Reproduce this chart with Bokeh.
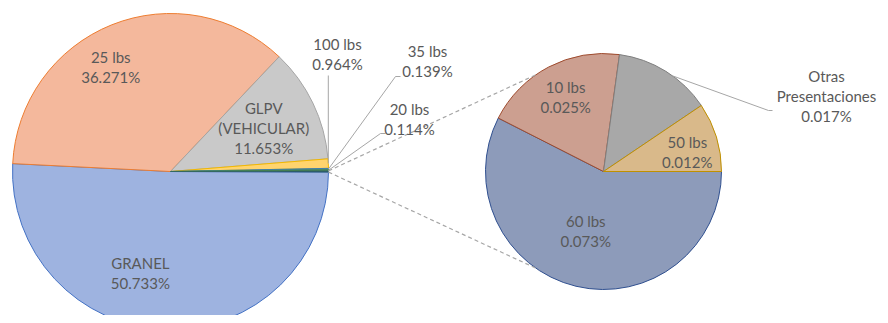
import math
from bokeh.plotting import figure
from bokeh.models import Range1d, ColumnDataSource
from bokeh.core.properties import value
from bokeh.embed import file_html
from bokeh.resources import INLINE

# ---------------- data ----------------
main_labels = ["GRANEL", "25 lbs", "GLPV\n(VEHICULAR)", "100 lbs", "35 lbs", "20 lbs"]
main_pct = [50.733, 36.271, 11.653, 0.964, 0.139, 0.114]
sec_labels = ["60 lbs", "10 lbs", "Otras\nPresentaciones", "50 lbs"]
sec_pct = [0.073, 0.025, 0.017, 0.012]

# ---------------- styles / layout ----------------
main_fill = ["#9EB3E0", "#F4B89C", "#C9C9C9", "#FFD46E", "#3F7FAF", "#4C8A4A"]
main_line = ["#4472C4", "#ED7D31", "#A5A5A5", "#F2B800", "#3F7FAF", "#4C8A4A"]
other_fill = "#2F5E68"
sec_fill = ["#8D9BBA", "#CC9F90", "#A8A8A8", "#D9B98A"]
sec_line = ["#2F4F8F", "#9E4B2E", "#7F7F7F", "#BF9000"]
TXT = "#595959"
LEAD = "#A6A6A6"
FONT = value("Lato")
FSIZE = "15px"
LINE_H = 20

W, H = 880, 315
IMG_H = 323


def Y(yi):
    return IMG_H - yi


C1 = (170.0, Y(171)); R1 = 158.0
C2 = (603.0, Y(171)); R2 = 118.0

total = sum(main_pct) + sum(sec_pct)
k = 2 * math.pi / total

# ---- main pie (clockwise; combined slice centred at 0 rad) ----
other_ang = sum(sec_pct) * k
m_start, m_end, m_mid = [], [], []
s = -other_ang / 2
for v in main_pct:
    e = s - v * k
    m_start.append(e); m_end.append(s); m_mid.append((s + e) / 2)
    s = e

p = figure(width=W, height=H, x_range=Range1d(0, W), y_range=Range1d(Y(H), Y(0)),
           min_border=0, toolbar_location=None, output_backend="svg",
           x_axis_type=None, y_axis_type=None)
p.grid.visible = False
p.outline_line_color = None
p.background_fill_color = "white"
p.border_fill_color = "white"

src1 = ColumnDataSource(dict(x=[C1[0]] * len(main_pct), y=[C1[1]] * len(main_pct),
                             start=m_start, end=m_end, fill=main_fill, line=main_line))
p.wedge(x="x", y="y", radius=R1, start_angle="start", end_angle="end",
        fill_color="fill", line_color="line", line_width=1, source=src1)
p.wedge(x=C1[0], y=C1[1], radius=R1, start_angle=-other_ang / 2, end_angle=other_ang / 2,
        fill_color=other_fill, line_color=other_fill, line_width=0.5)

# ---- secondary pie (clockwise from 0 rad) ----
sec_total = sum(sec_pct)
ks = 2 * math.pi / sec_total
s_start, s_end, s_mid = [], [], []
s = 0.0
for v in sec_pct:
    e = s - v * ks
    s_start.append(e); s_end.append(s); s_mid.append((s + e) / 2)
    s = e

src2 = ColumnDataSource(dict(x=[C2[0]] * len(sec_pct), y=[C2[1]] * len(sec_pct),
                             start=s_start, end=s_end, fill=sec_fill, line=sec_line))
p.wedge(x="x", y="y", radius=R2, start_angle="start", end_angle="end",
        fill_color="fill", line_color="line", line_width=1, source=src2)

# ---- dashed connectors ----
conn_ang = math.radians(125)
xs, ys = [], []
for sgn in (1, -1):
    a0 = sgn * other_ang / 2
    a1 = sgn * conn_ang
    xs.append([C1[0] + R1 * math.cos(a0), C2[0] + R2 * math.cos(a1)])
    ys.append([C1[1] + R1 * math.sin(a0), C2[1] + R2 * math.sin(a1)])
p.multi_line(xs=xs, ys=ys, line_color=LEAD, line_width=1.2, line_dash="4 3")


def edge(c, r, a):
    return (c[0] + r * math.cos(a), c[1] + r * math.sin(a))


# ---- labels ----
tx, ty, tt = [], [], []


def add_label(ax, ay, lines):
    n = len(lines)
    for i, ln in enumerate(lines):
        tx.append(ax)
        ty.append(ay + (n - 1) / 2 * LINE_H - i * LINE_H)
        tt.append(ln)


def lines_for(name, pct):
    return name.split("\n") + ["{:.3f}%".format(pct)]


# inside labels: (radius fraction, angular nudge in degrees)
inside_main = {0: (0.673, -14.9), 1: (0.76, 8.0), 2: (0.65, -0.8)}
for i, (frac, nud) in inside_main.items():
    a = m_mid[i] + math.radians(nud)
    ax, ay = edge(C1, R1 * frac, a)
    add_label(ax, ay, lines_for(main_labels[i], main_pct[i]))

inside_sec = {0: (0.53, -3.0), 1: (0.71, -0.8), 3: (0.73, -3.6)}
for i, (frac, nud) in inside_sec.items():
    a = s_mid[i] + math.radians(nud)
    ax, ay = edge(C2, R2 * frac, a)
    add_label(ax, ay, lines_for(sec_labels[i], sec_pct[i]))

# outside labels (pixel anchors) and leader lines
out_main = {3: (337, 53.5), 4: (427, 60), 5: (409, 118)}
for i, (ix, iy) in out_main.items():
    add_label(ix, Y(iy), lines_for(main_labels[i], main_pct[i]))
add_label(826, Y(95), lines_for(sec_labels[2], sec_pct[2]))

lx, ly = [], []
e3 = edge(C1, R1, m_mid[3]); lx.append([e3[0], e3[0]]); ly.append([e3[1], Y(75)])
e4 = edge(C1, R1, m_mid[4]); lx.append([e4[0], 395, 400]); ly.append([e4[1], Y(76), Y(76)])
e5 = edge(C1, R1, m_mid[5]); lx.append([e5[0], 380, 385]); ly.append([e5[1], Y(133), Y(133)])
eo = edge(C2, R2, s_mid[2] - math.radians(4)); lx.append([eo[0], 768, 772]); ly.append([eo[1], Y(110), Y(110)])
p.multi_line(xs=lx, ys=ly, line_color=LEAD, line_width=1)

p.text(x=tx, y=ty, text=tt, text_align="center", text_baseline="middle",
       text_font=FONT, text_font_size=FSIZE, text_color=TXT)

open("out.html", "w").write(file_html(p, INLINE))
